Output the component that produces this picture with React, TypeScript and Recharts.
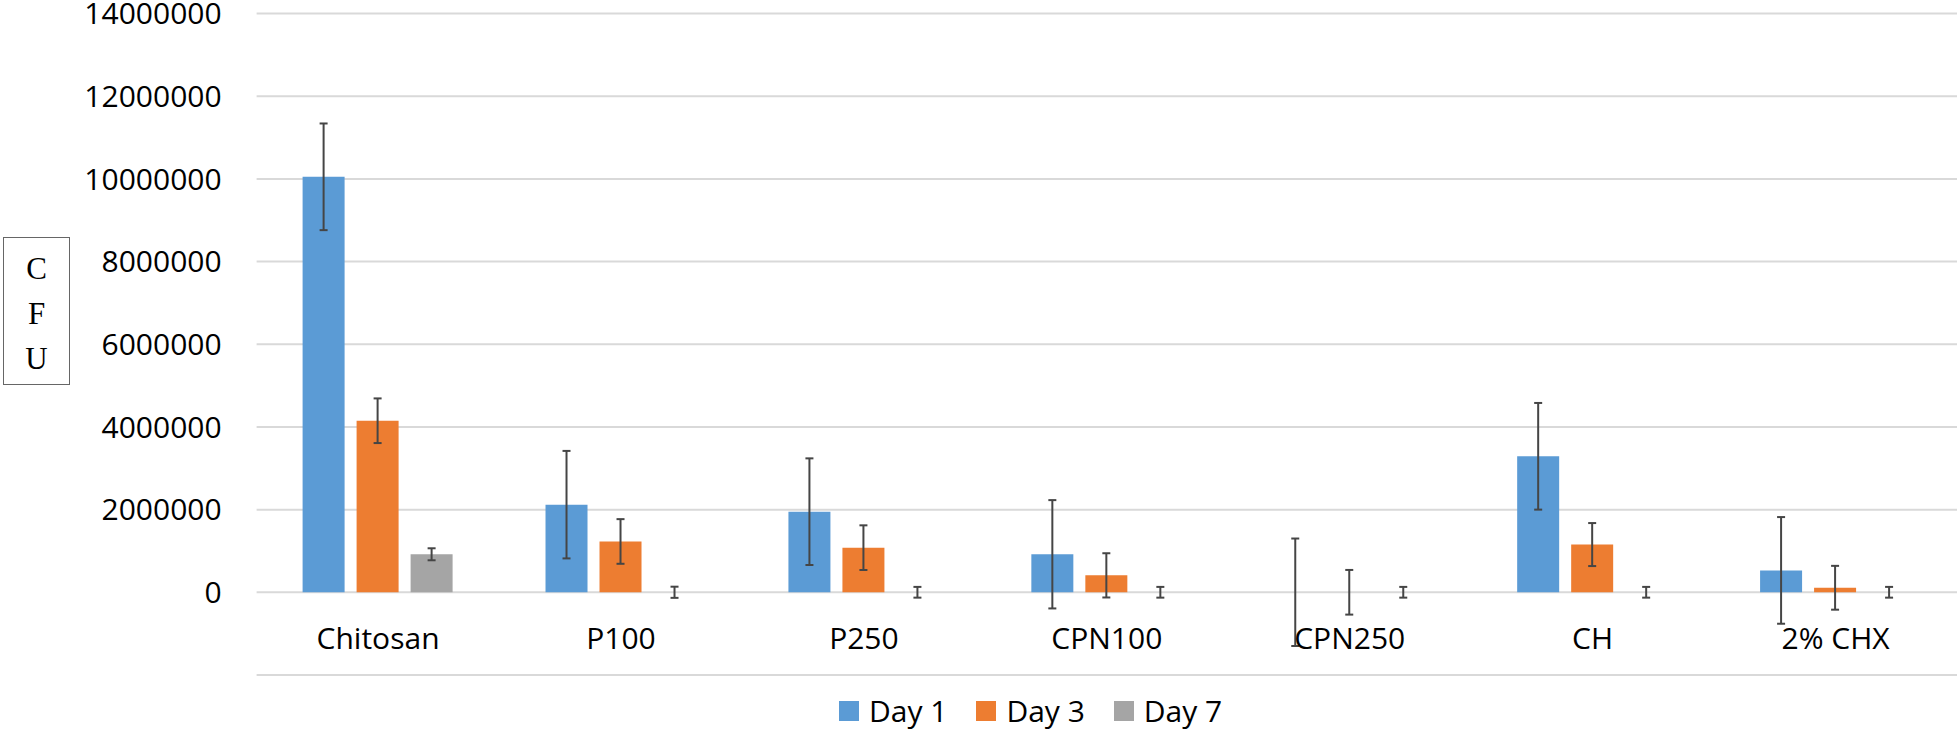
import { BarChart, Bar, XAxis, YAxis, CartesianGrid, ErrorBar } from "recharts";

const categories = ["Chitosan", "P100", "P250", "CPN100", "CPN250", "CH", "2% CHX"];
// values below ~20000 are not visible at this scale; read as "almost nothing"
const day1 = [10050000, 2120000, 1950000, 920000, 1000, 3290000, 530000];
const day1Err = [1290000, 1300000, 1290000, 1310000, 1300000, 1290000, 1290000];
const day3 = [4150000, 1230000, 1080000, 410000, 1000, 1155000, 110000];
const day3Err = [540000, 540000, 540000, 535000, 540000, 520000, 530000];
const day7 = [920000, 1000, 1000, 1000, 1000, 1000, 1000];
const day7Err = [145000, 135000, 130000, 130000, 130000, 130000, 130000];

const yTicks = [-2000000, 0, 2000000, 4000000, 6000000, 8000000, 10000000, 12000000, 14000000];
const seriesNames = ["Day 1", "Day 3", "Day 7"];
const colors = ["#5B9BD5", "#ED7D31", "#A5A5A5"];
const axisTitle = ["C", "F", "U"];

const data = categories.map((name, i) => ({
  name,
  d1: day1[i],
  e1: day1Err[i],
  d3: day3[i],
  e3: day3Err[i],
  d7: day7[i],
  e7: day7Err[i],
}));

const FONT = "'Open Sans', sans-serif";

const CategoryTick = ({ x, y, payload }: any) => (
  <text x={x} y={y - 26} textAnchor="middle" fontSize={30} fontFamily={FONT} fill="#000">
    {payload.value}
  </text>
);

export default function App() {
  return (
    <div style={{ position: "absolute", left: 0, top: 0, width: 1960, height: 730, background: "#fff" }}>
      <BarChart
        width={1960}
        height={730}
        data={data}
        barSize={42}
        barGap={12}
        margin={{ top: 13.5, right: 3, bottom: 0, left: 0 }}
        style={{ fontFamily: FONT }}
      >
        <CartesianGrid stroke="#d9d9d9" strokeWidth={2} vertical={false} />
        <XAxis
          dataKey="name"
          height={55}
          axisLine={false}
          tickLine={false}
          tickSize={0}
          tickMargin={0}
          interval={0}
          tick={<CategoryTick />}
        />
        <YAxis
          width={256.6}
          domain={[-2000000, 14000000]}
          ticks={yTicks}
          interval={0}
          axisLine={false}
          tickLine={false}
          tickSize={0}
          tickMargin={35}
          tick={{ fontSize: 30, fill: "#000", fontFamily: FONT }}
          tickFormatter={(v: number) => (v < 0 ? "" : String(v))}
        />
        <Bar dataKey="d1" name={seriesNames[0]} fill={colors[0]} isAnimationActive={false}>
          <ErrorBar dataKey="e1" width={4} stroke="#454545" strokeWidth={2} direction="y" />
        </Bar>
        <Bar dataKey="d3" name={seriesNames[1]} fill={colors[1]} isAnimationActive={false}>
          <ErrorBar dataKey="e3" width={4} stroke="#454545" strokeWidth={2} direction="y" />
        </Bar>
        <Bar dataKey="d7" name={seriesNames[2]} fill={colors[2]} isAnimationActive={false}>
          <ErrorBar dataKey="e7" width={4} stroke="#454545" strokeWidth={2} direction="y" />
        </Bar>
      </BarChart>

      {/* boxed axis title */}
      <div
        style={{
          position: "absolute",
          left: 3,
          top: 237,
          width: 67,
          height: 148,
          border: "1.5px solid #666",
          fontFamily: "'Liberation Serif', serif",
          fontSize: 31,
          lineHeight: "45px",
          textAlign: "center",
          paddingTop: 8,
          boxSizing: "border-box",
          color: "#000",
        }}
      >
        {axisTitle.map((ch) => (
          <div key={ch}>{ch}</div>
        ))}
      </div>

      {/* legend */}
      <div
        style={{
          position: "absolute",
          left: 839,
          top: 694,
          display: "flex",
          alignItems: "center",
          fontFamily: FONT,
          fontSize: 30,
          lineHeight: "34px",
          color: "#000",
        }}
      >
        {seriesNames.map((s, i) => (
          <div key={s} style={{ display: "flex", alignItems: "center", marginRight: 29 }}>
            <div style={{ width: 20, height: 20, background: colors[i], marginRight: 10 }} />
            <span>{s}</span>
          </div>
        ))}
      </div>
    </div>
  );
}
